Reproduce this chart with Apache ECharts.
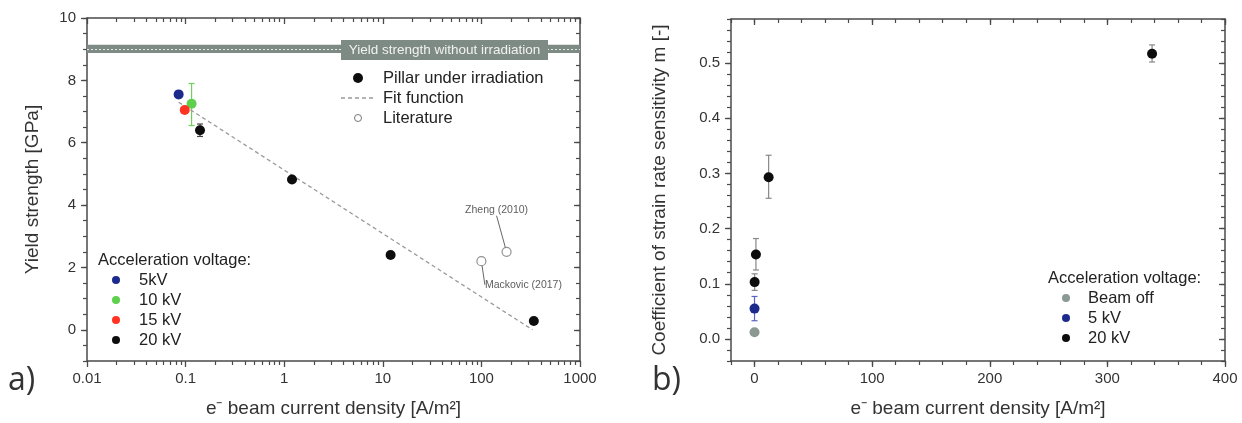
<!DOCTYPE html>
<html><head><meta charset="utf-8">
<script src="https://cdn.jsdelivr.net/npm/echarts@6/dist/echarts.min.js"></script>
<style>html,body{margin:0;padding:0;background:#fff}#c{width:1242px;height:423px}</style>
</head><body><div id="c"></div>
<script>
// ---------- Panel a data ----------
const aX5 = [0.085], aY5 = [7.55], aLo5 = [7.45], aHi5 = [7.65];
const aX10 = [0.115], aY10 = [7.25], aLo10 = [6.55], aHi10 = [7.9];
const aX15 = [0.098], aY15 = [7.05], aLo15 = [7.0], aHi15 = [7.1];
const aX20 = [0.14, 1.2, 12, 340], aY20 = [6.4, 4.82, 2.4, 0.28];
const aLo20 = [6.2, 4.75, 2.3, 0.22], aHi20 = [6.6, 4.9, 2.5, 0.34];
const litX = [100, 180], litY = [2.2, 2.5], litNames = ['Mackovic (2017)', 'Zheng (2010)'];
const fitX = [0.085, 330], fitY = [7.3, 0.0];
const bandY = [8.88, 9.14], bandMid = 9.01;
const aXTicks = [0.01, 0.1, 1, 10, 100, 1000];
const aYTicks = [0, 2, 4, 6, 8, 10];
// ---------- Panel b data ----------
const bXoff = [0], bYoff = [0.012];
const bX5 = [0], bY5 = [0.055], bLo5 = [0.033], bHi5 = [0.077];
const bX20 = [0.1, 1.2, 12, 338], bY20 = [0.103, 0.153, 0.293, 0.517];
const bLo20 = [0.088, 0.125, 0.255, 0.502], bHi20 = [0.118, 0.182, 0.333, 0.533];
const bXTicks = [0, 100, 200, 300, 400];
const bYTicks = [0, 0.1, 0.2, 0.3, 0.4, 0.5];
// legend texts
const legendA1 = ['Pillar under irradiation', 'Fit function', 'Literature'];
const legendA2 = ['5kV', '10 kV', '15 kV', '20 kV'];
const legendB = ['Beam off', '5 kV', '20 kV'];

const FONT = 'Liberation Sans, Arial, sans-serif';
const C = {blue:'#1c2a8c', green:'#5fcf4e', red:'#ff3322', black:'#0d0d0d', gray:'#8c9892'};
const AX = '#4a4a4a';
const LEG = 16.5;

// minor tick values
const aXMinor = []; for (let d = 0.01; d < 1000; d *= 10) for (let k = 2; k <= 9; k++) aXMinor.push(+(d * k).toPrecision(3));
const aYMinor = []; for (let v = -1; v <= 10; v += 0.5) aYMinor.push(v);
const bXMinor = []; for (let v = -20; v <= 400; v += 20) bXMinor.push(v);
const bYMinor = []; for (let v = -4; v <= 58; v += 2) bYMinor.push(+(v / 100).toFixed(2));

function zip(xs, ys) { return xs.map((x, i) => [x, ys[i]]); }
function zip3(xs, lo, hi) { return xs.map((x, i) => [x, lo[i], hi[i]]); }

function errSeries(xi, yi, data, color) {
  return {
    type: 'custom', xAxisIndex: xi, yAxisIndex: yi, data: data, z: 2, silent: true,
    renderItem: function (params, api) {
      const p1 = api.coord([api.value(0), api.value(1)]);
      const p2 = api.coord([api.value(0), api.value(2)]);
      const w = 3;
      const st = {stroke: color, lineWidth: 1.2};
      return {type: 'group', children: [
        {type: 'line', shape: {x1: p1[0], y1: p1[1], x2: p2[0], y2: p2[1]}, style: st},
        {type: 'line', shape: {x1: p1[0] - w, y1: p1[1], x2: p1[0] + w, y2: p1[1]}, style: st},
        {type: 'line', shape: {x1: p2[0] - w, y1: p2[1], x2: p2[0] + w, y2: p2[1]}, style: st}
      ]};
    }
  };
}
function dots(xi, yi, data, color, size) {
  return {type: 'scatter', xAxisIndex: xi, yAxisIndex: yi, data: data, symbolSize: size || 10, z: 5,
    itemStyle: {color: color, opacity: 1}, silent: true};
}
function NOLINE() { return {show: false, onZero: false}; }
function majT(vals, inside) { return {show: true, length: 6, inside: !!inside, lineStyle: {color: AX, width: 1.3}, customValues: vals}; }
function minT(vals, inside) { return {show: true, length: 4, inside: !!inside, lineStyle: {color: AX, width: 1.2}, customValues: vals}; }
function xAx(grid, type, min, max, pos, opt) {
  const o = Object.assign({
    gridIndex: grid, type: type, min: min, max: max, position: pos,
    splitLine: {show: false},
    axisLine: {show: true, onZero: false, lineStyle: {color: AX, width: 1.5}},
    axisLabel: {show: false}
  }, opt || {});
  if (type === 'log') o.logBase = 10;
  return o;
}
function yAx(grid, min, max, pos, opt) {
  return Object.assign({
    gridIndex: grid, type: 'value', min: min, max: max, position: pos,
    splitLine: {show: false},
    axisLine: {show: true, onZero: false, lineStyle: {color: AX, width: 1.5}},
    axisLabel: {show: false}
  }, opt || {});
}
const lblX = {show: true, color: '#333', fontSize: 15, fontFamily: FONT, margin: 10};
const lblY = {show: true, color: '#333', fontSize: 15, fontFamily: FONT, margin: 11};
const nameStyle = {color: '#333', fontSize: 19, fontFamily: FONT};

const option = {
  animation: false,
  backgroundColor: '#fff',
  grid: [
    {left: 87, right: 662, top: 18, bottom: 62},
    {left: 731, right: 17, top: 19, bottom: 62}
  ],
  xAxis: [
    xAx(0, 'log', 0.01, 1000, 'bottom', {
      axisTick: majT(aXTicks),
      axisLabel: Object.assign({}, lblX, {customValues: aXTicks, formatter: v => String(+v.toPrecision(3))}),
      name: 'e⁻ beam current density [A/m²]', nameLocation: 'middle', nameGap: 38, nameTextStyle: nameStyle
    }),
    xAx(0, 'log', 0.01, 1000, 'top', {axisTick: majT(aXTicks, true)}),
    xAx(0, 'log', 0.01, 1000, 'bottom', {axisLine: NOLINE(), axisTick: minT(aXMinor)}),
    xAx(0, 'log', 0.01, 1000, 'top', {axisLine: NOLINE(), axisTick: minT(aXMinor, true)}),
    xAx(1, 'value', -20, 400, 'bottom', {
      axisTick: majT(bXTicks),
      axisLabel: Object.assign({}, lblX, {customValues: bXTicks}),
      name: 'e⁻ beam current density [A/m²]', nameLocation: 'middle', nameGap: 38, nameTextStyle: nameStyle
    }),
    xAx(1, 'value', -20, 400, 'top', {axisTick: majT(bXTicks, true)}),
    xAx(1, 'value', -20, 400, 'bottom', {axisLine: NOLINE(), axisTick: minT(bXMinor)}),
    xAx(1, 'value', -20, 400, 'top', {axisLine: NOLINE(), axisTick: minT(bXMinor, true)})
  ],
  yAxis: [
    yAx(0, -1, 10, 'left', {
      axisTick: majT(aYTicks),
      axisLabel: Object.assign({}, lblY, {customValues: aYTicks}),
      name: 'Yield strength [GPa]', nameLocation: 'middle', nameGap: 45, nameTextStyle: nameStyle
    }),
    yAx(0, -1, 10, 'right', {axisTick: majT(aYTicks, true)}),
    yAx(0, -1, 10, 'left', {axisLine: NOLINE(), axisTick: minT(aYMinor)}),
    yAx(0, -1, 10, 'right', {axisLine: NOLINE(), axisTick: minT(aYMinor, true)}),
    yAx(1, -0.04, 0.58, 'left', {
      axisTick: majT(bYTicks),
      axisLabel: Object.assign({}, lblY, {customValues: bYTicks, formatter: v => v.toFixed(1)}),
      name: 'Coefficient of strain rate sensitivity m [-]', nameLocation: 'middle', nameGap: 62,
      nameTextStyle: nameStyle
    }),
    yAx(1, -0.04, 0.58, 'right', {axisTick: majT(bYTicks, true)}),
    yAx(1, -0.04, 0.58, 'left', {axisLine: NOLINE(), axisTick: minT(bYMinor)}),
    yAx(1, -0.04, 0.58, 'right', {axisLine: NOLINE(), axisTick: minT(bYMinor, true)})
  ],
  series: [
    // fit line + band
    {type: 'line', xAxisIndex: 0, yAxisIndex: 0, data: zip(fitX, fitY), symbol: 'none', silent: true, z: 3,
      lineStyle: {color: '#9a9a9a', width: 1.3, type: [4, 3]},
      markArea: {silent: true, itemStyle: {color: '#7e8b85'}, data: [[{yAxis: bandY[0]}, {yAxis: bandY[1]}]]},
      markLine: {silent: true, symbol: 'none', label: {show: false},
        lineStyle: {color: '#e8ecea', type: [2, 2], width: 1}, data: [{yAxis: bandMid}]}
    },
    errSeries(0, 0, zip3(aX5, aLo5, aHi5), C.blue),
    errSeries(0, 0, zip3(aX10, aLo10, aHi10), '#6fd15c'),
    errSeries(0, 0, zip3(aX15, aLo15, aHi15), C.red),
    errSeries(0, 0, zip3(aX20, aLo20, aHi20), '#444'),
    dots(0, 0, zip(aX5, aY5), C.blue),
    dots(0, 0, zip(aX10, aY10), C.green),
    dots(0, 0, zip(aX15, aY15), C.red),
    dots(0, 0, zip(aX20, aY20), C.black),
    {type: 'scatter', xAxisIndex: 0, yAxisIndex: 0, symbol: 'circle', symbolSize: 9, z: 5, silent: true,
      data: litX.map((x, i) => ({value: [x, litY[i]], name: litNames[i],
        label: i === 0 ? {position: 'bottom'} : {position: 'top'}})),
      itemStyle: {color: '#fff', borderColor: '#777', borderWidth: 1.2},
      label: {show: true, formatter: p => p.name, fontSize: 10.5, color: '#333', fontFamily: FONT},
      labelLayout: function (p) {
        return p.dataIndex === 0 ? {dx: 42, dy: 8} : {dx: -10, dy: -26};
      },
      labelLine: {show: true, lineStyle: {color: '#666', width: 1}}
    },
    // panel b
    errSeries(4, 4, zip3(bX5, bLo5, bHi5), '#5a64c0'),
    errSeries(4, 4, zip3(bX20, bLo20, bHi20), '#888'),
    dots(4, 4, zip(bXoff, bYoff), C.gray),
    dots(4, 4, zip(bX5, bY5), C.blue),
    dots(4, 4, zip(bX20, bY20), C.black)
  ],
  graphic: [
    // band label
    {type: 'rect', shape: {x: 341, y: 40, width: 207, height: 20}, style: {fill: '#7e8b85'}, z: 10},
    {type: 'text', x: 444.5, y: 50, style: {text: 'Yield strength without irradiation', fill: '#f2f2f2', fontSize: 13.5, fontFamily: FONT, align: 'center', verticalAlign: 'middle'}, z: 11},
    // legend a top-right
    {type: 'circle', shape: {cx: 358, cy: 78, r: 5}, style: {fill: C.black}},
    {type: 'text', x: 383, y: 78, style: {text: legendA1[0], fill: '#222', fontSize: LEG, fontFamily: FONT, verticalAlign: 'middle'}},
    {type: 'line', shape: {x1: 341, y1: 98, x2: 375, y2: 98}, style: {stroke: '#999', lineWidth: 1.3, lineDash: [4, 3]}},
    {type: 'text', x: 383, y: 98, style: {text: legendA1[1], fill: '#222', fontSize: LEG, fontFamily: FONT, verticalAlign: 'middle'}},
    {type: 'circle', shape: {cx: 358, cy: 118, r: 3.5}, style: {fill: '#fff', stroke: '#777', lineWidth: 1}},
    {type: 'text', x: 383, y: 118, style: {text: legendA1[2], fill: '#222', fontSize: LEG, fontFamily: FONT, verticalAlign: 'middle'}},
    // legend a bottom-left
    {type: 'text', x: 98, y: 260, style: {text: 'Acceleration voltage:', fill: '#222', fontSize: LEG, fontFamily: FONT, verticalAlign: 'middle'}},
    {type: 'circle', shape: {cx: 116, cy: 280, r: 4}, style: {fill: C.blue}},
    {type: 'text', x: 139, y: 280, style: {text: legendA2[0], fill: '#222', fontSize: LEG, fontFamily: FONT, verticalAlign: 'middle'}},
    {type: 'circle', shape: {cx: 116, cy: 300, r: 4}, style: {fill: C.green}},
    {type: 'text', x: 139, y: 300, style: {text: legendA2[1], fill: '#222', fontSize: LEG, fontFamily: FONT, verticalAlign: 'middle'}},
    {type: 'circle', shape: {cx: 116, cy: 320, r: 4}, style: {fill: C.red}},
    {type: 'text', x: 139, y: 320, style: {text: legendA2[2], fill: '#222', fontSize: LEG, fontFamily: FONT, verticalAlign: 'middle'}},
    {type: 'circle', shape: {cx: 116, cy: 340, r: 4}, style: {fill: C.black}},
    {type: 'text', x: 139, y: 340, style: {text: legendA2[3], fill: '#222', fontSize: LEG, fontFamily: FONT, verticalAlign: 'middle'}},
    // legend b
    {type: 'text', x: 1048, y: 278, style: {text: 'Acceleration voltage:', fill: '#222', fontSize: LEG, fontFamily: FONT, verticalAlign: 'middle'}},
    {type: 'circle', shape: {cx: 1066, cy: 298, r: 4}, style: {fill: C.gray}},
    {type: 'text', x: 1088, y: 298, style: {text: legendB[0], fill: '#222', fontSize: LEG, fontFamily: FONT, verticalAlign: 'middle'}},
    {type: 'circle', shape: {cx: 1066, cy: 318, r: 4}, style: {fill: C.blue}},
    {type: 'text', x: 1088, y: 318, style: {text: legendB[1], fill: '#222', fontSize: LEG, fontFamily: FONT, verticalAlign: 'middle'}},
    {type: 'circle', shape: {cx: 1066, cy: 338, r: 4}, style: {fill: C.black}},
    {type: 'text', x: 1088, y: 338, style: {text: legendB[2], fill: '#222', fontSize: LEG, fontFamily: FONT, verticalAlign: 'middle'}},
    // panel letters
    {type: 'text', x: 8, y: 381, style: {text: 'a)', fill: '#333', fontSize: 32, fontFamily: 'Open Sans, sans-serif', verticalAlign: 'middle'}},
    {type: 'text', x: 652, y: 381, style: {text: 'b)', fill: '#333', fontSize: 32, fontFamily: 'Open Sans, sans-serif', verticalAlign: 'middle'}}
  ]
};
const chart = echarts.init(document.getElementById('c'), null, {renderer: 'canvas'});
chart.setOption(option);
</script>
</body></html>
